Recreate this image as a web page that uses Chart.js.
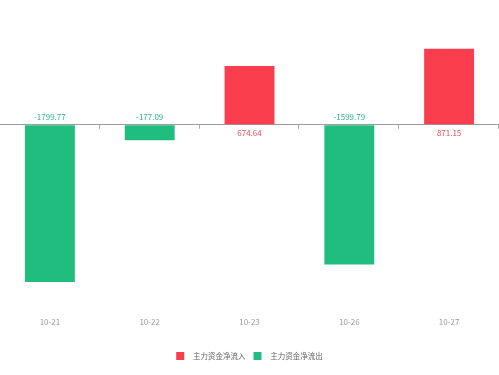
<!DOCTYPE html>
<html>
<head>
<meta charset="utf-8">
<script src="https://cdn.jsdelivr.net/npm/chart.js@4/dist/chart.umd.min.js"></script>
<style>
    html, body { margin: 0; padding: 0; background: #fff; }
    #wrap { width: 499px; height: 375px; }
</style>
</head>
<body>
<div id="wrap"><canvas id="flowChart"></canvas></div>
<script>
// Chart data
const dates = ['10-21', '10-22', '10-23', '10-26', '10-27'];
const inflow = [null, null, 674.64, null, 871.15];
const outflow = [-1799.77, -177.09, null, -1599.79, null];
const seriesNames = ['主力资金净流入', '主力资金净流出'];
const yMin = -2091;
const yMax = 1429;

// Colors
const RED = '#fa3e4e';
const GREEN = '#21bd7e';
const RED_TEXT = '#ec4b58';
const GREEN_TEXT = '#2bb383';
const FONT = '"Noto Sans CJK SC", "Noto Sans", sans-serif';

// Value labels on the opposite side of the zero line, plus small tick marks
const flowLabels = {
    id: 'flowLabels',
    afterDatasetsDraw(chart) {
        const ctx = chart.ctx;
        const y = chart.scales.y;
        const x = chart.scales.x;
        const zeroY = y.getPixelForValue(0);

        // tick marks below the zero line at category boundaries
        ctx.save();
        ctx.strokeStyle = '#aaaaaa';
        ctx.lineWidth = 1;
        for (let i = 1; i <= dates.length; i++) {
            const px = Math.round((x.getPixelForValue(i - 1) + x.getPixelForValue(i)) / 2) - 0.5;
            ctx.beginPath();
            ctx.moveTo(px, zeroY);
            ctx.lineTo(px, zeroY + 4);
            ctx.stroke();
        }

        ctx.font = '8px ' + FONT;
        ctx.textAlign = 'center';
        ctx.textBaseline = 'middle';
        chart.data.datasets.forEach((ds, di) => {
            const meta = chart.getDatasetMeta(di);
            meta.data.forEach((bar, i) => {
                const v = ds.data[i];
                if (v === null || v === undefined) return;
                if (v < 0) {
                    ctx.fillStyle = GREEN_TEXT;
                    ctx.fillText(v.toFixed(2), bar.x, zeroY - 8);
                } else {
                    ctx.fillStyle = RED_TEXT;
                    ctx.fillText(v.toFixed(2), bar.x, zeroY + 8);
                }
            });
        });
        ctx.restore();
    }
};

new Chart(document.getElementById('flowChart'), {
    type: 'bar',
    data: {
        labels: dates,
        datasets: [{
            label: seriesNames[0],
            data: inflow,
            backgroundColor: RED,
            borderWidth: 0
        }, {
            label: seriesNames[1],
            data: outflow,
            backgroundColor: GREEN,
            borderWidth: 0
        }]
    },
    options: {
        responsive: true,
        maintainAspectRatio: false,
        animation: false,
        barPercentage: 0.5,
        categoryPercentage: 1,
        layout: { padding: { top: 0, left: 0, right: 0, bottom: 5 } },
        scales: {
            x: {
                stacked: true,
                grid: { display: false },
                border: { display: false },
                ticks: { color: '#9a9a9a', font: { size: 8, family: FONT }, padding: 2 },
                // leave a gap between the date labels and the legend
                afterFit(scale) { scale.height += 15; }
            },
            y: {
                stacked: true,
                min: yMin,
                max: yMax,
                ticks: { display: false },
                border: { display: false },
                grid: {
                    drawTicks: false,
                    color: ctx => ctx.tick && ctx.tick.value === 0 ? '#9c9c9c' : 'rgba(0,0,0,0)'
                },
                afterBuildTicks(scale) {
                    scale.ticks = [{ value: 0 }];
                }
            }
        },
        plugins: {
            tooltip: { enabled: false },
            legend: {
                position: 'bottom',
                labels: {
                    boxWidth: 8,
                    boxHeight: 8,
                    padding: 8,
                    color: '#666',
                    font: { size: 7.5, family: FONT },
                    generateLabels(chart) {
                        const items = Chart.defaults.plugins.legend.labels.generateLabels(chart);
                        return items.map(it => Object.assign(it, { text: '   ' + it.text }));
                    }
                }
            }
        }
    },
    plugins: [flowLabels]
});
</script>
</body>
</html>
